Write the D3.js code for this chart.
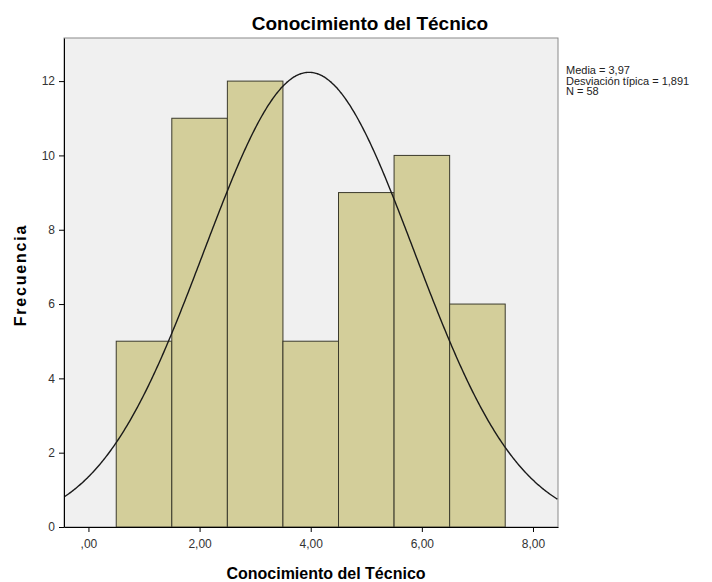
<!DOCTYPE html>
<html>
<head>
  <meta charset="UTF-8">
  <title>Conocimiento del Técnico</title>
  <style>
    body { margin: 0; background: #fff; }
    text { font-family: 'Liberation Sans', Arial, sans-serif; }
  </style>
</head>
<body>
<svg id="chart"></svg>
<script src="https://d3js.org/d3.v7.min.js"></script>
<script>
// histogram data
const binCenters = [1, 2, 3, 4, 5, 6, 7];
const counts = [5, 11, 12, 5, 9, 10, 6];
const xTicks = [0, 2, 4, 6, 8];
const yTicks = [0, 2, 4, 6, 8, 10, 12];
const media = 3.97, desv = 1.891, n = 58;
const statLines = ["Media = 3,97", "Desviación típica = 1,891", "N = 58"];

const width = 712, height = 582;
const plotL = 64, plotR = 558, plotT = 38, plotB = 527;

const svg = d3.select("#chart").attr("width", width).attr("height", height);

const x = d3.scaleLinear().domain([-0.44, 8.45]).range([plotL, plotR]);
const y = d3.scaleLinear().domain([0, 13.16]).range([plotB, plotT]);

// plot background
svg.append("rect")
    .attr("x", plotL).attr("y", plotT)
    .attr("width", plotR - plotL).attr("height", plotB - plotT)
    .attr("fill", "#f0f0f0")
    .attr("stroke", "#8a8a8a").attr("stroke-width", 1);

svg.append("clipPath").attr("id", "clip")
  .append("rect")
    .attr("x", plotL).attr("y", plotT)
    .attr("width", plotR - plotL).attr("height", plotB - plotT);

// bars
svg.append("g")
  .selectAll("rect")
  .data(binCenters)
  .enter()
  .append("rect")
    .attr("x", d => x(d - 0.5))
    .attr("y", (d, i) => y(counts[i]))
    .attr("width", d => x(d + 0.5) - x(d - 0.5))
    .attr("height", (d, i) => y(0) - y(counts[i]))
    .attr("fill", "#d3ce9a")
    .attr("stroke", "#3b3a2c")
    .attr("stroke-width", 1);

// normal curve
const pts = d3.range(-0.44, 8.46, 0.02);
const line = d3.line()
    .x(d => x(d))
    .y(d => y(n * Math.exp(-0.5 * Math.pow((d - media) / desv, 2)) / (desv * Math.sqrt(2 * Math.PI))))
    .curve(d3.curveBasis);

svg.append("path")
    .datum(pts)
    .attr("clip-path", "url(#clip)")
    .attr("d", line)
    .attr("fill", "none")
    .attr("stroke", "#1a1a1a")
    .attr("stroke-width", 1.4);

// axes
const xAxis = d3.axisBottom(x).tickValues(xTicks).tickSize(5).tickSizeOuter(0)
    .tickFormat(d => d == 0 ? ",00" : d3.format(".2f")(d).replace(".", ","));
const gx = svg.append("g").attr("transform", "translate(0," + plotB + ")").call(xAxis);
gx.select(".domain").attr("stroke", "#000");
gx.selectAll("text").attr("font-size", 12).attr("fill", "#333").attr("dy", "1.1em");

const yAxis = d3.axisLeft(y).tickValues(yTicks).tickSize(5).tickSizeOuter(0);
const gy = svg.append("g").attr("transform", "translate(" + plotL + ",0)").call(yAxis);
gy.select(".domain").attr("stroke", "#000");
gy.selectAll("text").attr("font-size", 12).attr("fill", "#333").attr("dx", "-1px");

// titles
svg.append("text")
    .attr("x", 370).attr("y", 30)
    .attr("text-anchor", "middle")
    .attr("font-size", 19).attr("font-weight", "bold")
    .text("Conocimiento del Técnico");

svg.append("text")
    .attr("x", 326).attr("y", 579)
    .attr("text-anchor", "middle")
    .attr("font-size", 16).attr("font-weight", "bold")
    .text("Conocimiento del Técnico");

svg.append("text")
    .attr("transform", "translate(26,275) rotate(-90)")
    .attr("text-anchor", "middle")
    .attr("font-size", 16).attr("font-weight", "bold")
    .attr("letter-spacing", 1.8)
    .text("Frecuencia");

// stats
svg.append("g")
  .selectAll("text")
  .data(statLines)
  .enter()
  .append("text")
    .attr("x", 566)
    .attr("y", (d, i) => 74 + i * 10.5)
    .attr("font-size", 11)
    .attr("fill", "#222")
    .text(d => d);
</script>
</body>
</html>
